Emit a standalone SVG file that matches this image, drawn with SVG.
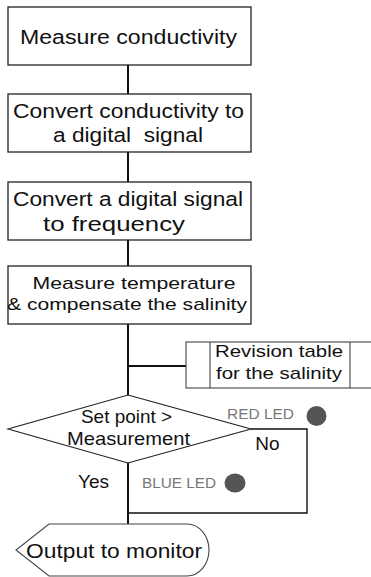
<svg xmlns="http://www.w3.org/2000/svg" width="371" height="577" viewBox="0 0 371 577">
  <style>
    .box { fill: #fff; stroke: #222; stroke-width: 1.3; }
    .thin { fill: #fff; stroke: #444; stroke-width: 1.1; }
    .wire { fill: none; stroke: #111; stroke-width: 2; }
    .loop { fill: none; stroke: #111; stroke-width: 1.4; }
    text { font-family: "Liberation Sans", Arial, sans-serif; fill: #111; text-anchor: middle; }
    .big { font-size: 20.5px; }
    .mid { font-size: 17px; }
    .led { font-size: 15px; fill: #777; text-anchor: start; }
    .dot { fill: #555; }
  </style>
  <rect width="371" height="577" fill="#fff"/>

  <!-- connectors -->
  <g id="connectors">
    <line class="wire" x1="128" y1="65" x2="128" y2="94"/>
    <line class="wire" x1="128" y1="152" x2="128" y2="182"/>
    <line class="wire" x1="128" y1="240" x2="128" y2="266"/>
    <line class="wire" x1="128" y1="324" x2="128" y2="395"/>
    <line class="wire" x1="128" y1="366" x2="186" y2="366"/>
    <line class="wire" x1="128" y1="463" x2="128" y2="524"/>
    <polyline class="loop" points="251,429 307,429 307,513 128,513"/>
  </g>

  <g id="measure-conductivity">
    <rect class="box" x="8" y="7" width="243" height="58"/>
    <text class="big" x="128.5" y="44" textLength="217" lengthAdjust="spacingAndGlyphs">Measure conductivity</text>
  </g>

  <g id="convert-digital">
    <rect class="box" x="8" y="94" width="243" height="58"/>
    <text class="big" x="128.5" y="118" textLength="231" lengthAdjust="spacingAndGlyphs">Convert conductivity to</text>
    <text class="big" x="128" y="142" textLength="150" lengthAdjust="spacingAndGlyphs" xml:space="preserve">a digital  signal</text>
  </g>

  <g id="convert-frequency">
    <rect class="box" x="8" y="182" width="243" height="58"/>
    <text class="big" x="128" y="206" textLength="230" lengthAdjust="spacingAndGlyphs">Convert a digital signal</text>
    <text class="big" x="114" y="231" textLength="142" lengthAdjust="spacingAndGlyphs">to frequency</text>
  </g>

  <g id="measure-temperature">
    <rect class="box" x="8" y="266" width="243" height="58"/>
    <text class="mid" x="134" y="289" textLength="203" lengthAdjust="spacingAndGlyphs">Measure temperature</text>
    <text class="mid" x="127" y="310" textLength="240" lengthAdjust="spacingAndGlyphs">&amp; compensate the salinity</text>
  </g>

  <g id="revision-table">
    <rect class="thin" x="186" y="342" width="200" height="46"/>
    <line class="thin" x1="210" y1="342" x2="210" y2="388"/>
    <line class="thin" x1="350" y1="342" x2="350" y2="388"/>
    <text class="mid" x="279" y="357" textLength="128" lengthAdjust="spacingAndGlyphs">Revision table</text>
    <text class="mid" x="279" y="379" textLength="126" lengthAdjust="spacingAndGlyphs">for the salinity</text>
  </g>

  <g id="decision">
    <polygon class="thin" points="128,395 251,429 128,463 8,429" style="stroke:#222"/>
    <text x="126.5" y="423" style="font-size:18.5px" textLength="91" lengthAdjust="spacingAndGlyphs">Set point &gt;</text>
    <text x="128.5" y="445" style="font-size:18.5px" textLength="123" lengthAdjust="spacingAndGlyphs">Measurement</text>
  </g>

  <g id="labels">
    <text x="267.5" y="450" style="font-size:19px">No</text>
    <text x="93.5" y="488" style="font-size:19px">Yes</text>
    <text class="led" x="227" y="419" textLength="67" lengthAdjust="spacingAndGlyphs">RED LED</text>
    <circle class="dot" cx="316.5" cy="416" r="10"/>
    <text class="led" x="142" y="488" textLength="74" lengthAdjust="spacingAndGlyphs">BLUE LED</text>
    <ellipse class="dot" cx="235" cy="483" rx="10.5" ry="9.5"/>
  </g>

  <g id="output-monitor">
    <path class="thin" d="M49,524 L187,524 A22,26 0 0 1 187,576 L49,576 L16,550 Z"/>
    <text x="114" y="558" style="font-size:21px" textLength="176" lengthAdjust="spacingAndGlyphs">Output to monitor</text>
  </g>
</svg>
